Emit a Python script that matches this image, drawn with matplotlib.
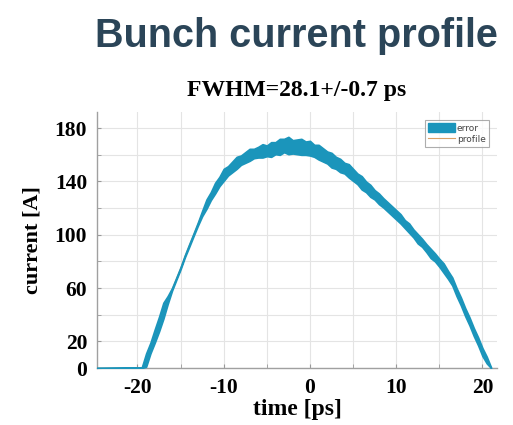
import numpy as np
import matplotlib
matplotlib.use("Agg")
import matplotlib.pyplot as plt
from matplotlib.patches import Patch
from matplotlib.lines import Line2D

# Measured bunch current profile (time in ps, current in A)
time_ps = [-25.0,
           -19.5, -19.0, -18.5, -18.0, -17.5, -17.0, -16.5, -16.0, -15.5, -15.0,
           -14.5, -14.0, -13.5, -13.0, -12.5, -12.0, -11.5, -11.0, -10.5, -10.0,
           -9.5, -9.0, -8.5, -8.0, -7.5, -7.0, -6.5, -6.0, -5.5, -5.0,
           -4.5, -4.0, -3.5, -3.0, -2.5, -2.0, -1.5, -1.0, -0.5, 0.0,
           0.5, 1.0, 1.5, 2.0, 2.5, 3.0, 3.5, 4.0, 4.5, 5.0,
           5.5, 6.0, 6.5, 7.0, 7.5, 8.0, 8.5, 9.0, 9.5, 10.0,
           10.5, 11.0, 11.5, 12.0, 12.5, 13.0, 13.5, 14.0, 14.5, 15.0,
           15.5, 16.0, 16.5, 17.0, 17.5, 18.0, 18.5, 19.0, 19.5, 20.0,
           20.5, 21.0]

current_A = [0,
             0, 6, 15, 24, 33, 43, 51, 59, 67, 75,
             84, 92, 100, 108, 116, 123, 129, 135, 140, 145,
             148, 151, 154, 156, 158, 160, 161, 162, 163, 163,
             164, 165, 166, 167, 167, 166, 166, 166, 165, 165,
             163, 162, 160, 158, 156, 154, 152, 150, 148, 145,
             142, 139, 136, 133, 130, 127, 124, 121, 118, 115,
             112, 108, 105, 101, 97, 94, 90, 86, 83, 79,
             75, 70, 65, 57, 50, 42, 35, 27, 20, 12,
             6, 0]

error_A = [0,
           0.5, 5, 4, 5, 5.5, 6, 3, 1, 0.8, 0.8,
           0.8, 1, 1, 1.2, 2, 3.5, 3, 4, 3.5, 4.5,
           3.5, 4, 4.5, 3.5, 4, 4.5, 3.5, 4, 5, 4,
           5.5, 4.5, 6, 5, 6.5, 5, 5.5, 6, 5, 5.5,
           4.5, 5.5, 5, 4.5, 5.5, 4.5, 5, 4, 5, 4.5,
           4, 5, 4, 4.5, 3.5, 4, 3.5, 3.5, 3.5, 3.5,
           3.5, 3, 3.5, 3, 3.5, 3, 3, 3.5, 3, 3,
           3.5, 3, 3, 3, 3, 3, 3, 3, 3, 3,
           2.5, 0.5]

x_ticks = [-20, -10, 0, 10, 20]
y_ticks = [0, 20, 60, 100, 140, 180]

band_color = "#1b95bb"
line_color = "#d9a066"

t = np.array(time_ps)
cur = np.array(current_A)
err = np.array(error_A)

fig = plt.figure(figsize=(5.13, 4.25), dpi=100)
fig.patch.set_facecolor("white")

fig.text(0.577, 0.889, "Bunch current profile", ha="center", va="baseline",
         fontsize=28.5, fontweight="bold", color="#2b4558",
         family="Liberation Sans")

ax = fig.add_axes([0.189, 0.134, 0.780, 0.602])

ax.fill_between(t, np.maximum(cur - err, 0), cur + err, color=band_color,
                linewidth=1.2, edgecolor=band_color, zorder=3)
ax.plot(t, cur, color=line_color, linewidth=0.6, zorder=2)

ax.set_xlim(-24.7, 21.7)
ax.set_ylim(0, 192)

ax.set_xticks(x_ticks)
ax.set_xticks([-15, -5, 5, 15], minor=True)
ax.set_yticks(y_ticks)
ax.set_yticks([40, 80, 120, 160], minor=True)
ax.grid(True, which="both", color="#e4e4e4", linewidth=0.8, zorder=0)
ax.set_axisbelow(True)

serif = "Liberation Serif"
ax.set_xticklabels([str(v) for v in x_ticks], fontsize=15.5, fontweight="bold",
                   family=serif)
ax.set_yticklabels([str(v) for v in y_ticks], fontsize=15.5, fontweight="bold",
                   family=serif)
ax.tick_params(which="both", direction="in", length=3, color="#999999",
               pad=7, top=False, right=False)

for side in ("top", "right"):
    ax.spines[side].set_visible(False)
for side in ("left", "bottom"):
    ax.spines[side].set_color("#a0a0a0")
    ax.spines[side].set_linewidth(1.0)

ax.set_xlabel("time [ps]", fontsize=17, fontweight="bold", family=serif,
              labelpad=1)
ax.set_ylabel("current [A]", fontsize=16, fontweight="bold", family=serif,
              labelpad=9)
ax.set_title("FWHM=28.1+/-0.7 ps", fontsize=17, fontweight="bold",
             family=serif, pad=12)

handles = [Patch(facecolor=band_color, edgecolor=band_color, label="error"),
           Line2D([0], [0], color=line_color, linewidth=0.8, label="profile")]
leg = ax.legend(handles=handles, loc="upper right", fontsize=6.5,
                frameon=True, fancybox=False, borderaxespad=0.9,
                handlelength=3.0, handleheight=1.0, labelspacing=0.2,
                borderpad=0.35, handletextpad=0.2, labelcolor="#444444")
leg.get_frame().set_edgecolor("#999999")
leg.get_frame().set_linewidth(0.8)

fig.savefig("out.png", dpi=100, facecolor="white")
